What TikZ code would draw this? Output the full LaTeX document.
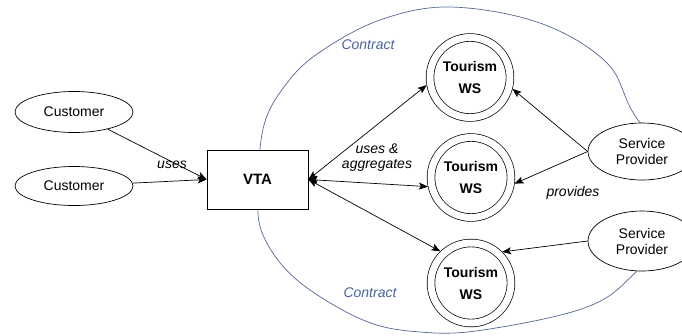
\documentclass[tikz,border=0pt]{standalone}
\usepackage{fontspec}
\setmainfont{Liberation Sans}
\usetikzlibrary{arrows.meta,shapes.geometric}
\definecolor{contractline}{RGB}{84,102,150}
\definecolor{contracttext}{RGB}{72,100,158}
\begin{document}
\begin{tikzpicture}[x=1pt,y=-1pt,
  every node/.style={font=\fontsize{14}{16}\selectfont},
  actor/.style={ellipse, draw, line width=0.7pt, fill=white, inner sep=0pt, align=center},
  agent/.style={rectangle, draw, line width=0.8pt, fill=white,
    minimum width=101pt, minimum height=59pt, font=\bfseries\fontsize{15}{17}\selectfont},
  service/.style={circle, draw, line width=0.7pt, double=white, double distance=7pt,
    minimum size=80pt, inner sep=0pt, outer sep=4pt, fill=white, align=center,
    font=\bfseries\fontsize{14}{22}\selectfont},
  tip/.tip={Stealth[length=9pt,width=7pt,inset=2pt]},
  flow/.style={line width=0.7pt, -tip},
  twoway/.style={line width=0.7pt, tip-tip},
  lbl/.style={font=\itshape\fontsize{14}{15}\selectfont, inner sep=0pt, align=center},
  contractlbl/.style={lbl, text=contracttext},
]
\clip (0,0) rectangle (682,335);
\fill[white] (0,0) rectangle (682,335);

% contract boundary around the agent and the web services
\draw[contractline, line width=0.7pt] plot[smooth cycle, tension=0.6] coordinates {
  (258,190) (264,125) (287,83) (320,52) (380,20) (450,7) (540,23) (607,63)
  (638,120) (705,195) (638,270) (587,307) (483,330) (420,332) (363,320)
  (297,280) (263,235)};

% customers and the agent
\node[actor, minimum width=118pt, minimum height=41pt] (c1) at (74,112) {Customer};
\node[actor, minimum width=118pt, minimum height=39pt] (c2) at (74,186) {Customer};
\node[agent] (vta) at (257.5,179.5) {VTA};

% web services
\node[service] (ws1) at (470,77.5) {Tourism\\WS};
\node[service] (ws2) at (471,177.5) {Tourism\\WS};
\node[service] (ws3) at (471,283) {Tourism\\WS};

% providers
\node[actor, minimum width=108pt, minimum height=57pt] (sp1) at (642,151.5) {Service\\Provider};
\node[actor, minimum width=108pt, minimum height=60pt] (sp2) at (642,241) {Service\\Provider};

% connectors
\draw[flow] (c1) -- (vta.west);
\draw[flow] (c2) -- (vta.west);
\draw[twoway] (vta.east) -- (ws1.190);
\draw[twoway] (vta.east) -- (ws2.192);
\draw[twoway] (vta.east) -- (ws3.134);
\draw[flow] (sp1.west) -- (ws1.345);
\draw[flow] (sp1.west) -- (ws2.352);
\draw[flow] (sp2.west) -- (ws3.45);

% labels
\node[lbl] (uses) at (172,165) {uses};
\node[lbl] (agg) at (377,158) {uses \&\\aggregates};
\node[lbl] (prov) at (573,193) {provides};
\node[contractlbl] (ctop) at (368,45) {Contract};
\node[contractlbl] (cbot) at (370,293) {Contract};
\end{tikzpicture}
\end{document}
